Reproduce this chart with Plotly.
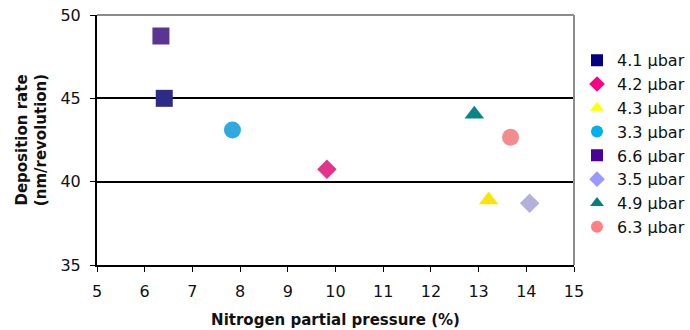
import plotly.graph_objects as go

# Measured deposition rate vs. nitrogen partial pressure, one point per total pressure
labels = ["4.1 µbar", "4.2 µbar", "4.3 µbar", "3.3 µbar", "6.6 µbar", "3.5 µbar", "4.9 µbar", "6.3 µbar"]
n2_pressure = [6.41, 9.82, 13.21, 7.84, 6.34, 14.07, 12.91, 13.67]
dep_rate = [45.0, 40.74, 38.9, 43.1, 48.74, 38.7, 44.05, 42.66]

symbols = ["square", "diamond", "triangle-up", "circle", "square", "diamond", "triangle-up", "circle"]
marker_colors = ["#2C2C86", "#E2348C", "#FBE40A", "#2EAAE1", "#5A3591", "#B3B0DA", "#0A8585", "#F38C8C"]
legend_colors = ["#000080", "#FF0080", "#FFFF00", "#00B0F0", "#4B0099", "#9999FF", "#008080", "#FF8080"]
sizes = [17, 15, 17, 17, 17, 15, 17, 17]

fig = go.Figure()

for i, name in enumerate(labels):
    fig.add_trace(go.Scatter(
        x=[n2_pressure[i]], y=[dep_rate[i]], mode="markers", name=name,
        legendgroup=name, showlegend=False,
        marker=dict(symbol=symbols[i], size=sizes[i], color=marker_colors[i],
                    line=dict(width=0)),
    ))
    # legend-only entry with the smaller key marker
    fig.add_trace(go.Scatter(
        x=[None], y=[None], mode="markers", name=name, legendgroup=name,
        marker=dict(symbol=symbols[i], size=12, color=legend_colors[i], line=dict(width=0)),
    ))

font = "DejaVu Sans, Arial, sans-serif"

# plot area spans 97..574 px horizontally; the legend is right-aligned in the strip beside it
left_px, right_px, width_px = 97, 574, 690
domain_end = (right_px - left_px) / (width_px - left_px)

fig.update_layout(
    width=width_px, height=330,
    margin=dict(l=left_px, r=0, t=15, b=65, autoexpand=False),
    paper_bgcolor="white", plot_bgcolor="white",
    font=dict(family=font, size=16, color="#111"),
    legend=dict(x=1.0, xanchor="right", y=0.887, yanchor="top",
                font=dict(size=16, family=font, color="#111"),
                tracegroupgap=0, itemwidth=30, traceorder="grouped"),
    xaxis=dict(
        domain=[0, domain_end], automargin=False,
        range=[5, 15], dtick=1, tick0=5,
        showline=True, linecolor="black", linewidth=2,
        ticks="outside", ticklen=5, tickcolor="black", tickwidth=1,
        ticklabelstandoff=6,
        showgrid=False, zeroline=False,
        title=dict(text="<b>Nitrogen partial pressure (%)</b>", font=dict(size=15), standoff=14),
    ),
    yaxis=dict(
        automargin=False,
        range=[35, 50], dtick=5, tick0=35,
        showline=True, linecolor="black", linewidth=2,
        ticks="outside", ticklen=5, tickcolor="black", tickwidth=1,
        ticklabelstandoff=6,
        showgrid=True, gridcolor="black", gridwidth=1.5, zeroline=False,
        title=dict(text="<b>Deposition rate<br>(nm/revolution)</b>", font=dict(size=15), standoff=10),
    ),
    shapes=[
        dict(type="line", xref="x domain", yref="y domain", x0=0, x1=1, y0=1, y1=1,
             line=dict(color="#8C8C8C", width=2), layer="above"),
        dict(type="line", xref="x domain", yref="y domain", x0=1, x1=1, y0=0, y1=1,
             line=dict(color="#8C8C8C", width=2), layer="above"),
    ],
)

fig.write_html("out.html")
